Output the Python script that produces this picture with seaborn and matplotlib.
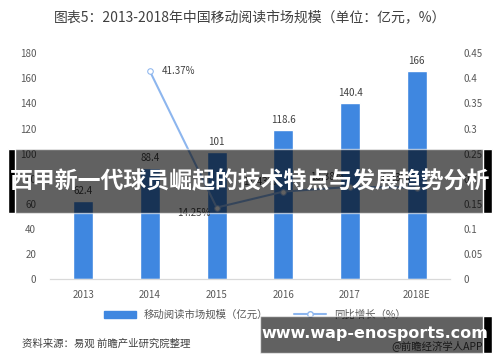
import numpy as np
import pandas as pd
import matplotlib
matplotlib.use("Agg")
import matplotlib.pyplot as plt
import seaborn as sns
from matplotlib.patches import Rectangle, Patch
from matplotlib.lines import Line2D

years = ['2013', '2014', '2015', '2016', '2017', '2018E']
market = [62.4, 88.4, 101, 118.6, 140.4, 166]
growth = [np.nan, 0.4137, 0.1425, 0.1743, 0.1838, 0.1823]
growth_labels = ['', '41.37%', '14.25%', '17.43%', '18.38%', '18.23%']

bar_color = '#3f87e0'
line_color = '#8db6ee'
txt_color = '#595959'

sns.set_style('white')
plt.rcParams['font.family'] = ['Noto Sans CJK SC', 'DejaVu Sans']

df = pd.DataFrame({'year': years, 'market': market, 'growth': growth,
                   'pos': np.arange(len(years))})

fig = plt.figure(figsize=(5, 3.62), dpi=100)
ax = fig.add_axes([0.1, 0.229, 0.8, 0.624])

sns.barplot(data=df, x='year', y='market', color=bar_color, width=0.3,
            saturation=1, ax=ax)
ax.set_ylim(0, 180)
ax.set_xlim(-0.5, 5.5)
ax.set_yticks(np.arange(0, 181, 20))
ax.set_xlabel('')
ax.set_ylabel('')
for i, v in enumerate(market):
    ax.text(i, v + 4, f'{v:g}', ha='center', va='bottom', fontsize=7, color='#404040')

ax2 = ax.twinx()
sns.lineplot(data=df, x='pos', y='growth', color=line_color, linewidth=1.5,
             marker='o', markersize=4, markerfacecolor='white',
             markeredgecolor=line_color, ax=ax2)
ax2.set_ylim(0, 0.45)
ax2.set_yticks(np.arange(0, 0.46, 0.05))
ax2.set_yticklabels(['0', '0.05', '0.1', '0.15', '0.2', '0.25', '0.3', '0.35', '0.4', '0.45'])
ax2.set_ylabel('')
ax2.set_xlabel('')
ax2.set_xlim(-0.5, 5.5)
for i, (g, lab) in enumerate(zip(growth, growth_labels)):
    if lab == '':
        continue
    if i == 1:
        ax2.text(i + 0.17, g, lab, ha='left', va='center', fontsize=7, color='#404040')
    elif i == 2:
        ax2.text(i - 0.35, g - 0.01, lab, ha='center', va='center', fontsize=7, color='#404040')
    else:
        ax2.text(i - 0.35, g + 0.02, lab, ha='center', va='center', fontsize=7, color='#404040')

for a in (ax, ax2):
    for s in ['top', 'left', 'right']:
        a.spines[s].set_visible(False)
    a.spines['bottom'].set_color('#d9d9d9')
    a.tick_params(length=0, labelsize=7, colors=txt_color)
ax.tick_params(axis='y', pad=10)
ax2.tick_params(axis='y', pad=10)
ax.tick_params(axis='x', pad=8)

fig.text(0.5, 0.953, '图表5：2013-2018年中国移动阅读市场规模（单位：亿元，%）',
         ha='center', va='center', fontsize=10, color='#404040')

handles = [Patch(color=bar_color),
           Line2D([], [], color=line_color, lw=1.5, marker='o', markersize=4,
                  markerfacecolor='white')]
fig.legend(handles, ['移动阅读市场规模（亿元）', '同比增长（%）'], loc='center',
           bbox_to_anchor=(0.51, 0.13), ncol=2, frameon=False, fontsize=7.5,
           handlelength=3, columnspacing=2.5, labelcolor=txt_color)

fig.text(0.044, 0.05, '资料来源：易观 前瞻产业研究院整理', ha='left', va='center',
         fontsize=7.5, color='#404040', style='italic')
fig.text(0.966, 0.045, '@前瞻经济学人APP', ha='right', va='center',
         fontsize=7.5, color='#404040')

# overlay banners
fig.patches.append(Rectangle((0.016, 0.412), 0.968, 0.176, transform=fig.transFigure,
                             facecolor='black', alpha=0.62, zorder=10))
fig.patches.append(Rectangle((0.016, 0.412), 0.014, 0.176, transform=fig.transFigure,
                             facecolor='black', zorder=11))
fig.patches.append(Rectangle((0.966, 0.412), 0.018, 0.176, transform=fig.transFigure,
                             facecolor='black', zorder=11))
fig.text(0.5, 0.497, '西甲新一代球员崛起的技术特点与发展趋势分析', ha='center', va='center',
         fontsize=16.5, color='white', fontweight='bold', zorder=12)

fig.patches.append(Rectangle((0.52, 0.025), 0.46, 0.102, transform=fig.transFigure,
                             facecolor='black', alpha=0.62, zorder=10))
fig.patches.append(Rectangle((0.966, 0.025), 0.018, 0.102, transform=fig.transFigure,
                             facecolor='black', zorder=11))
fig.text(0.75, 0.08, 'www.wap-enosports.com', ha='center', va='center',
         fontsize=11.5, color='white', fontweight='bold', zorder=12,
         family=['DejaVu Sans'])

fig.savefig('out.png', dpi=100)
